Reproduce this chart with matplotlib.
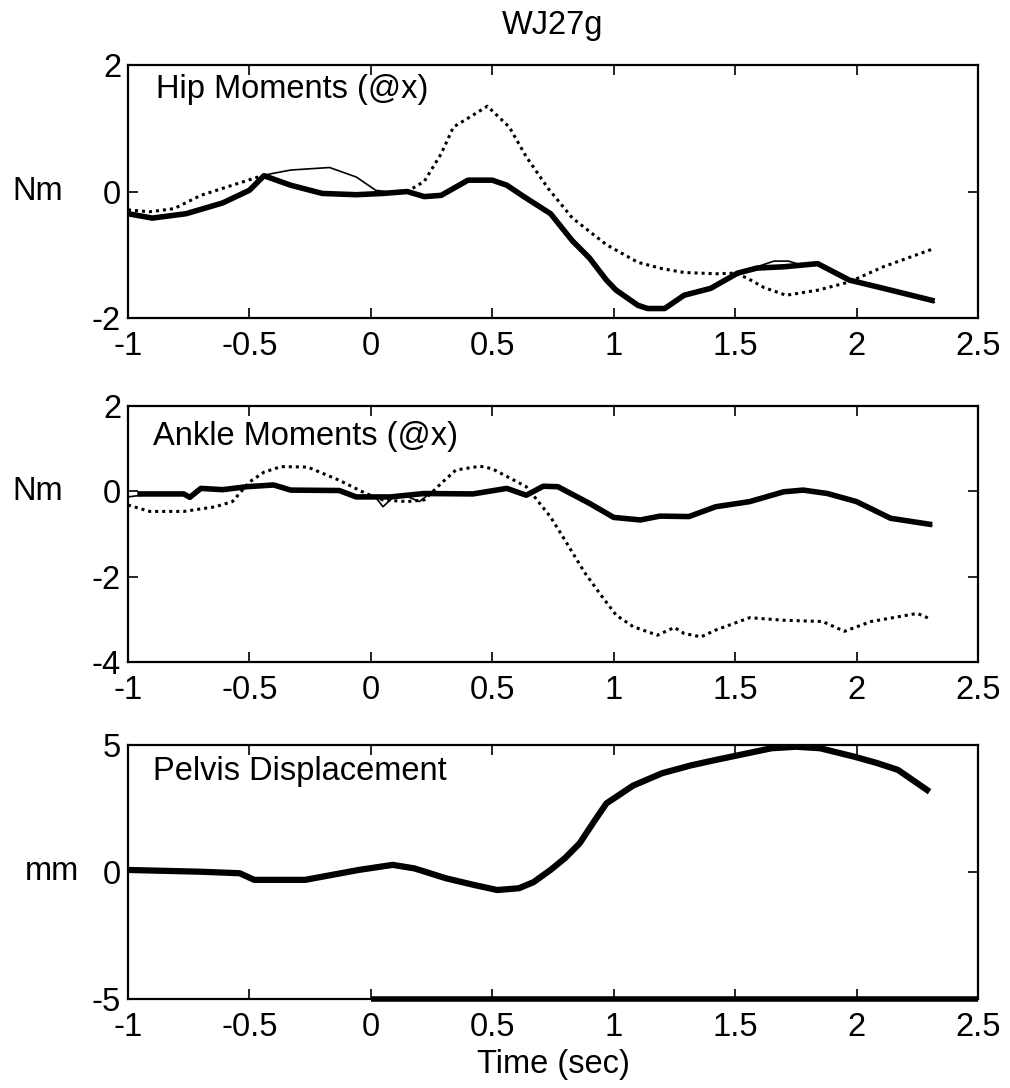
import numpy as np
import matplotlib.pyplot as plt

plt.rcParams['font.family'] = ['Liberation Sans', 'DejaVu Sans']

# --- Hip moments (Nm) ---
hip_thick_t = [-1.0, -0.90, -0.76, -0.61, -0.50, -0.44, -0.33, -0.20, -0.06, 0.05, 0.15, 0.22, 0.29,
               0.40, 0.50, 0.56, 0.63, 0.74, 0.83, 0.90, 0.97, 1.01, 1.10, 1.14, 1.21, 1.29, 1.40,
               1.51, 1.59, 1.70, 1.84, 1.97, 2.11, 2.31]
hip_thick_v = [-0.35, -0.42, -0.35, -0.18, 0.02, 0.25, 0.10, -0.03, -0.05, -0.03, 0.0, -0.08, -0.06,
               0.18, 0.18, 0.10, -0.08, -0.35, -0.78, -1.05, -1.40, -1.56, -1.80, -1.85, -1.85, -1.64, -1.53,
               -1.29, -1.21, -1.19, -1.14, -1.40, -1.53, -1.72]
hip_thin_t = [-1.0, -0.90, -0.76, -0.61, -0.50, -0.44, -0.33, -0.17, -0.06, 0.02, 0.08, 0.15, 0.22,
              0.29, 0.40, 0.50, 0.56, 0.63, 0.74, 0.83, 0.90, 0.97, 1.01, 1.10, 1.14, 1.21, 1.29,
              1.40, 1.51, 1.59, 1.66, 1.72, 1.78, 1.84, 1.97, 2.11, 2.32]
hip_thin_v = [-0.33, -0.40, -0.34, -0.17, 0.03, 0.26, 0.34, 0.38, 0.23, 0.02, -0.01, 0.01, -0.07,
              -0.05, 0.19, 0.19, 0.11, -0.06, -0.33, -0.75, -1.02, -1.37, -1.53, -1.77, -1.83, -1.83, -1.62,
              -1.51, -1.27, -1.19, -1.10, -1.10, -1.17, -1.13, -1.38, -1.52, -1.75]
hip_dot_t = [-1.0, -0.91, -0.81, -0.70, -0.57, -0.44, -0.33, -0.20, -0.06, 0.05, 0.15, 0.22,
             0.29, 0.34, 0.40, 0.48, 0.57, 0.64, 0.73, 0.83, 0.97, 1.10, 1.20, 1.29, 1.42, 1.50,
             1.55, 1.62, 1.71, 1.84, 1.97, 2.11, 2.32]
hip_dot_v = [-0.29, -0.32, -0.27, -0.06, 0.10, 0.26, 0.10, -0.03, -0.05, -0.03, 0.0, 0.16,
             0.60, 1.02, 1.16, 1.35, 1.02, 0.55, 0.05, -0.42, -0.84, -1.12, -1.22, -1.28, -1.30, -1.29,
             -1.37, -1.52, -1.64, -1.56, -1.43, -1.19, -0.90]

# --- Ankle moments (Nm) ---
ank_thick_t = [-0.95, -0.77, -0.745, -0.70, -0.61, -0.51, -0.40, -0.33, -0.13, -0.06, 0.08, 0.22,
               0.42, 0.56, 0.64, 0.71, 0.77, 0.90, 1.00, 1.11, 1.19, 1.31, 1.42, 1.56, 1.70, 1.78,
               1.88, 2.00, 2.14, 2.30]
ank_thick_v = [-0.06, -0.06, -0.14, 0.07, 0.04, 0.11, 0.15, 0.03, 0.02, -0.13, -0.13, -0.05,
               -0.06, 0.07, -0.09, 0.12, 0.11, -0.28, -0.61, -0.67, -0.58, -0.59, -0.36, -0.24, -0.01, 0.03,
               -0.05, -0.24, -0.63, -0.77]
ank_thin_t = [-1.0, -0.93, -0.77, -0.745, -0.70, -0.61, -0.51, -0.40, -0.33, -0.13, -0.06, 0.02,
              0.05, 0.09, 0.15, 0.20, 0.24, 0.42, 0.56, 0.64, 0.71, 0.77, 0.90, 1.00, 1.11, 1.19,
              1.31, 1.42, 1.56, 1.70, 1.78, 1.88, 2.00, 2.14, 2.31]
ank_thin_v = [-0.13, -0.08, -0.05, -0.12, 0.08, 0.05, 0.12, 0.14, 0.04, 0.03, -0.12, -0.14,
              -0.36, -0.15, -0.12, -0.24, -0.06, -0.05, 0.08, -0.08, 0.13, 0.10, -0.30, -0.63, -0.66, -0.57,
              -0.60, -0.35, -0.23, 0.0, 0.04, -0.06, -0.26, -0.65, -0.80]
ank_dot_t = [-1.0, -0.91, -0.77, -0.64, -0.57, -0.50, -0.44, -0.37, -0.26, -0.13, -0.02, 0.05,
             0.15, 0.22, 0.29, 0.35, 0.45, 0.50, 0.64, 0.67, 0.74, 0.80, 0.88, 0.95, 1.01, 1.08,
             1.18, 1.25, 1.29, 1.36, 1.42, 1.56, 1.70, 1.86, 1.95, 2.06, 2.25, 2.30]
ank_dot_v = [-0.32, -0.47, -0.47, -0.36, -0.24, 0.22, 0.45, 0.58, 0.57, 0.26, -0.05, -0.20,
             -0.24, -0.20, 0.19, 0.50, 0.59, 0.53, 0.11, -0.10, -0.60, -1.15, -1.90, -2.45, -2.90, -3.17,
             -3.37, -3.19, -3.33, -3.41, -3.25, -2.96, -3.02, -3.05, -3.28, -3.05, -2.86, -2.98]

# --- Pelvis displacement (mm) ---
pel_t = [-1.0, -0.70, -0.54, -0.48, -0.27, -0.05, 0.09, 0.18, 0.31, 0.42, 0.52, 0.61, 0.67, 0.74,
         0.80, 0.86, 0.92, 0.97, 1.08, 1.20, 1.32, 1.42, 1.54, 1.65, 1.75, 1.85, 1.99, 2.08,
         2.17, 2.29]
pel_v = [0.08, 0.01, -0.05, -0.31, -0.31, 0.08, 0.28, 0.14, -0.25, -0.50, -0.71, -0.64, -0.40, 0.08,
         0.55, 1.13, 2.00, 2.70, 3.40, 3.89, 4.20, 4.41, 4.65, 4.87, 4.93, 4.87, 4.54, 4.30,
         4.02, 3.23]
pel_floor_t = [0.0, 2.5]
pel_floor_v = [-5, -5]

x_ticks = [-1, -0.5, 0, 0.5, 1, 1.5, 2, 2.5]
x_labels = ['-1', '-0.5', '0', '0.5', '1', '1.5', '2', '2.5']

fig = plt.figure(figsize=(10.10, 10.88), dpi=100)
left, width = 0.1267, 0.8416
ax1 = fig.add_axes([left, 0.7077, width, 0.2325])
ax2 = fig.add_axes([left, 0.3915, width, 0.2353])
ax3 = fig.add_axes([left, 0.0818, width, 0.2335])

fs = 23.5


def style_axes(ax, ylim, yticks, ylabel, ylab_y, ylab_x):
    ax.set_xlim(-1, 2.5)
    ax.set_ylim(*ylim)
    ax.set_xticks(x_ticks)
    ax.set_xticklabels(x_labels)
    ax.set_yticks(yticks)
    ax.set_yticklabels([str(v) for v in yticks])
    ax.tick_params(direction='in', length=7, width=1.2, top=True, right=True,
                   labelsize=fs, color='black')
    ax.tick_params(axis='x', pad=9)
    ax.tick_params(axis='y', pad=5)
    for s in ax.spines.values():
        s.set_linewidth(1.6)
        s.set_color('black')
    ax.set_ylabel(ylabel, rotation=0, fontsize=fs, va='center', ha='center')
    ax.yaxis.set_label_coords(ylab_x, ylab_y)


# Hip panel
ax1.plot(hip_dot_t, hip_dot_v, color='black', linestyle=(0, (1, 1.3)), linewidth=2.2)
ax1.plot(hip_thin_t, hip_thin_v, color='black', linewidth=1.2)
ax1.plot(hip_thick_t, hip_thick_v, color='black', linewidth=4.0)
style_axes(ax1, (-2, 2), [-2, 0, 2], 'Nm', 0.5, -0.106)
ax1.text(0.033, 0.87, 'Hip Moments (@x)', transform=ax1.transAxes, fontsize=fs, va='baseline')

# Ankle panel
ax2.plot(ank_dot_t, ank_dot_v, color='black', linestyle=(0, (1, 1.3)), linewidth=2.2)
ax2.plot(ank_thin_t, ank_thin_v, color='black', linewidth=1.2)
ax2.plot(ank_thick_t, ank_thick_v, color='black', linewidth=4.0)
style_axes(ax2, (-4, 2), [-4, -2, 0, 2], 'Nm', 0.667, -0.106)
ax2.text(0.03, 0.848, 'Ankle Moments (@x)', transform=ax2.transAxes, fontsize=fs, va='baseline')

# Pelvis panel
ax3.plot(pel_t, pel_v, color='black', linewidth=1.2)
ax3.plot(pel_t, pel_v, color='black', linewidth=4.5)
ax3.plot(pel_floor_t, pel_floor_v, color='black', linewidth=4.0, clip_on=False, solid_capstyle='butt')
style_axes(ax3, (-5, 5), [-5, 0, 5], 'mm', 0.5, -0.089)
ax3.text(0.03, 0.862, 'Pelvis Displacement', transform=ax3.transAxes, fontsize=fs, va='baseline')
ax3.set_xlabel('Time (sec)', fontsize=fs, labelpad=5)

fig.text(0.5476, 0.977, 'WJ27g', ha='center', va='center', fontsize=fs)

fig.savefig('out.png', dpi=100)
